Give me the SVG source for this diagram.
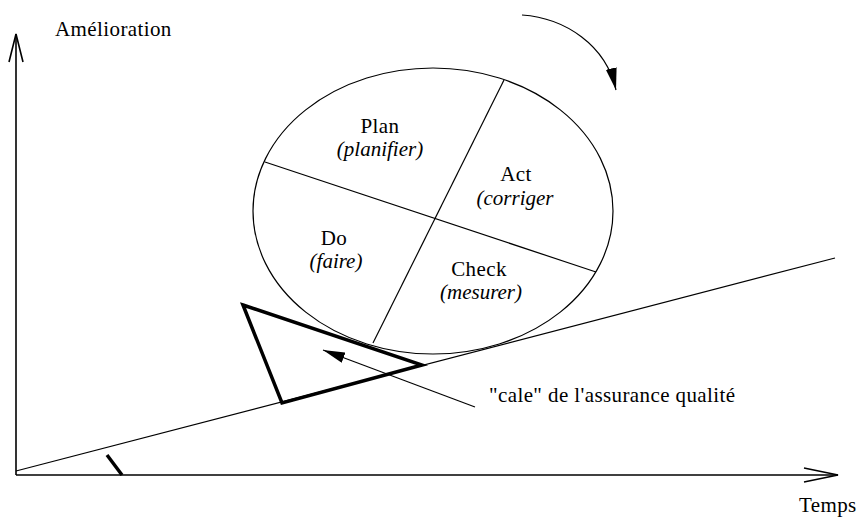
<svg xmlns="http://www.w3.org/2000/svg" width="862" height="518" viewBox="0 0 862 518">
<style>
text{font-family:"Liberation Serif","Times New Roman",serif;font-size:21px;letter-spacing:0.4px;fill:#000}
.it{font-style:italic;letter-spacing:0}
.thin{fill:none;stroke:#000;stroke-width:1.2}
.axis{fill:none;stroke:#000;stroke-width:1.6}
.thick{fill:none;stroke:#000;stroke-width:3.5;stroke-linejoin:miter}
</style>
<defs>
<marker id="head" viewBox="0 0 20 10" refX="20" refY="5" markerUnits="userSpaceOnUse" markerWidth="22" markerHeight="11" orient="auto">
<path d="M0,0 L20,5 L0,10 z" fill="#000"/>
</marker>
</defs>
<rect width="862" height="518" fill="#fff"/>
<g id="axes">
<line class="axis" x1="16" y1="475" x2="16" y2="34"/>
<polyline class="axis" points="9,62 16,34 23,62"/>
<line class="axis" x1="16" y1="475" x2="838" y2="475"/>
<polyline class="axis" points="804,468 838,475 804,482"/>
<text x="55" y="36">Amélioration</text>
<text x="799" y="512">Temps</text>
</g>
<g id="slope">
<line class="thin" x1="16" y1="471" x2="835" y2="258"/>
<line class="thick" x1="107" y1="455" x2="122" y2="475"/>
</g>
<g id="pdca-wheel">
<ellipse class="thin" cx="433" cy="211" rx="180" ry="143"/>
<line class="thin" x1="265" y1="162" x2="596" y2="272"/>
<line class="thin" x1="504" y1="80" x2="373" y2="343"/>
<text x="380" y="133" text-anchor="middle">Plan</text>
<text class="it" x="380" y="156" text-anchor="middle">(planifier)</text>
<text x="516" y="181" text-anchor="middle">Act</text>
<text class="it" x="515" y="205" text-anchor="middle">(corriger</text>
<text x="334" y="245" text-anchor="middle">Do</text>
<text class="it" x="336" y="268" text-anchor="middle">(faire)</text>
<text x="479" y="276" text-anchor="middle">Check</text>
<text class="it" x="481" y="299" text-anchor="middle">(mesurer)</text>
</g>
<g id="connectors">
<path class="thin" d="M522,15 C565,18 606,45 616,90" marker-end="url(#head)"/>
<line class="thin" x1="475" y1="407" x2="323" y2="350" marker-end="url(#head)"/>
</g>
<g id="cale">
<polygon class="thick" points="243,305 422,365 282,403"/>
<text x="489" y="402">"cale" de l'assurance qualité</text>
</g>
</svg>
